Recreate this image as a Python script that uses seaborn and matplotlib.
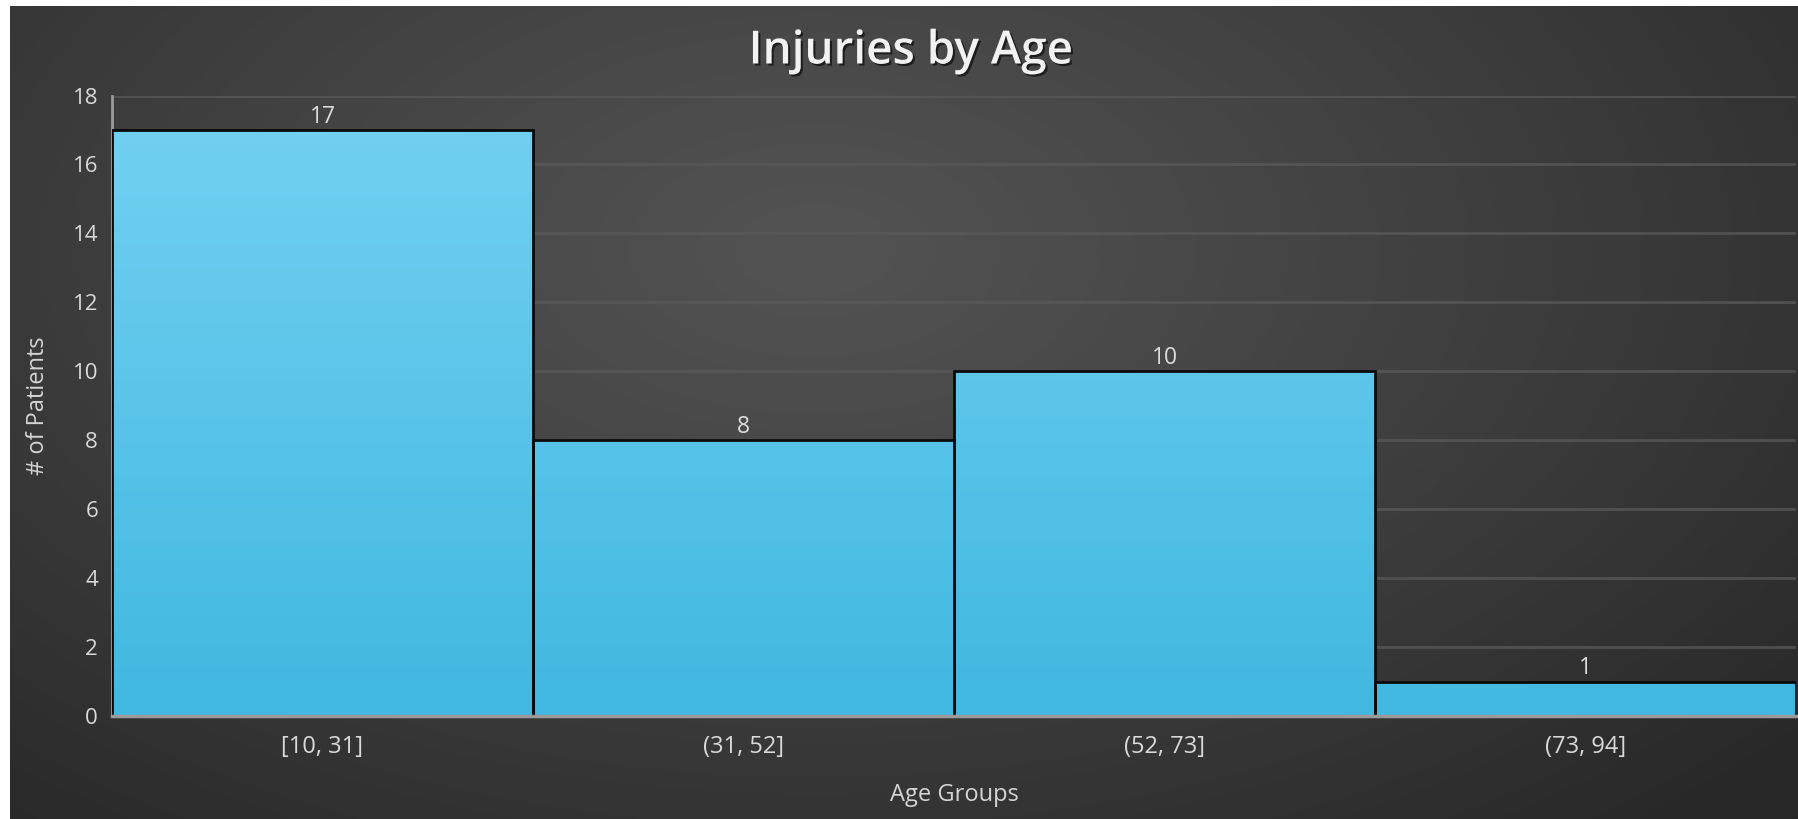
import numpy as np
import pandas as pd
import matplotlib
matplotlib.use("Agg")
import matplotlib.pyplot as plt
import matplotlib.patheffects as pe
import seaborn as sns

# ---- data ----
age_groups = ["[10, 31]", "(31, 52]", "(52, 73]", "(73, 94]"]
patients = [17, 8, 10, 1]
y_ticks = [0, 2, 4, 6, 8, 10, 12, 14, 16, 18]
title_text = "Injuries by Age"
x_label = "Age Groups"
y_label = "# of Patients"

df = pd.DataFrame({"group": age_groups, "count": patients})

sns.set_theme(style="dark")
plt.rcParams["font.family"] = ["Open Sans", "DejaVu Sans"]

W, H = 1799, 819
fig = plt.figure(figsize=(W / 100, H / 100), dpi=100)
fig.patch.set_facecolor("white")

# ---- radial background (dark area starts after small white margin) ----
bg = fig.add_axes([10 / W, 0, 1 - 10 / W, 1 - 6 / H])
bg.set_axis_off()
gx, gy = np.meshgrid(np.linspace(0, 1, 600), np.linspace(0, 1, 300))
cx, cy = 0.45, 0.30
r = np.sqrt(((gx - cx) / 0.75) ** 2 + ((gy - cy) / 0.95) ** 2)
r = np.clip(r, 0, 1)
light, dark = 0x53 / 255, 0x27 / 255
val = light - (light - dark) * r ** 1.1
img = np.dstack([val, val, val])
bg.imshow(img, extent=[0, 1, 1, 0], aspect="auto", interpolation="bilinear")
bg.set_xlim(0, 1)
bg.set_ylim(1, 0)

# ---- main axes ----
ax = fig.add_axes([112 / W, 1 - 716 / H, (1796 - 112) / W, (716 - 95.5) / H])
ax.patch.set_alpha(0)

sns.barplot(data=df, x="group", y="count", width=1.0, color="#5BCBF2",
            edgecolor="#0a0a0a", linewidth=2, ax=ax, zorder=3)
ax.set_xlim(-0.5, len(age_groups) - 0.5)
ax.set_ylim(0, 18)
ax.set_yticks(y_ticks)

# gradient fill clipped to each bar
grad = np.linspace(0, 1, 256).reshape(-1, 1)
top_c = np.array([0x74, 0xD1, 0xF2]) / 255
bot_c = np.array([0x40, 0xB8, 0xE0]) / 255
gimg = bot_c[None, None, :] * (1 - grad[:, :, None]) + top_c[None, None, :] * grad[:, :, None]
for p in ax.patches:
    im = ax.imshow(gimg, extent=[-0.5, len(age_groups) - 0.5, 0, 18], origin="lower",
                   aspect="auto", zorder=3.5, interpolation="bilinear")
    im.set_clip_path(p)
    p.set_zorder(4)
    p.set_facecolor("none")
ax.set_xlim(-0.5, len(age_groups) - 0.5)
ax.set_ylim(0, 18)

# gridlines
ax.yaxis.grid(True, color="#5a5a5a", linewidth=2, alpha=0.75, zorder=1)
ax.xaxis.grid(False)
ax.set_axisbelow(True)

for s in ["top", "right"]:
    ax.spines[s].set_visible(False)
ax.spines["left"].set_color("#9a9a9a")
ax.spines["left"].set_linewidth(2)
ax.spines["bottom"].set_color("#9a9a9a")
ax.spines["bottom"].set_linewidth(2.5)
ax.spines["bottom"].set_zorder(5)

ax.tick_params(axis="both", length=0, colors="#d9d9d9")
ax.tick_params(axis="x", pad=14, labelsize=17)
ax.tick_params(axis="y", pad=10, labelsize=16)

# data labels
for i, v in enumerate(patients):
    ax.annotate(str(v), xy=(i, v), xytext=(0, 1), textcoords="offset points",
                ha="center", va="bottom", fontsize=16.5, color="#dcdcdc", zorder=6)

ax.set_xlabel(x_label, fontsize=17, color="#d4d4d4")
ax.set_ylabel(y_label, fontsize=17, color="#d4d4d4")
ax.xaxis.set_label_coords(0.5, (716 - 795) / (716 - 95.5))
ax.xaxis.label.set_va("center")
ax.yaxis.set_label_coords((38 - 112) / (1796 - 112), 0.5)
ax.yaxis.label.set_va("center")

fig.text(911 / W, 1 - 52 / H, title_text, ha="center", va="center",
         fontsize=33, fontweight="semibold", color="#f2f2f2",
         path_effects=[pe.withSimplePatchShadow(offset=(1.5, -1.5), shadow_rgbFace="black", alpha=0.6)])

fig.savefig("out.png", dpi=100, facecolor=fig.get_facecolor())
